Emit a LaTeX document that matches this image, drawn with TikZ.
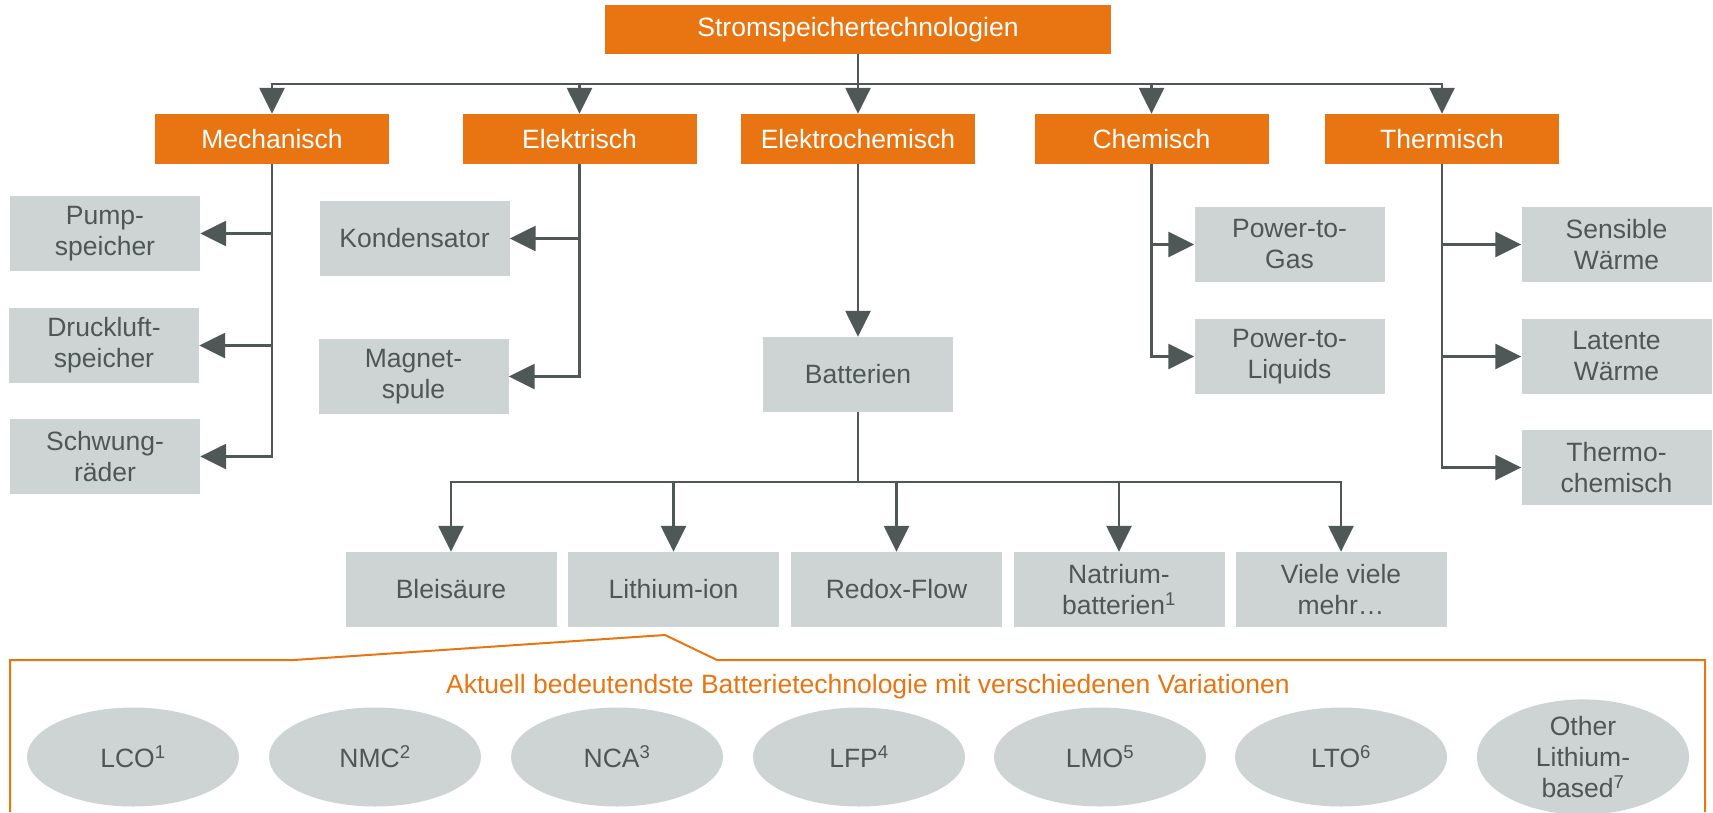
\documentclass[tikz,border=0pt]{standalone}
\usepackage{fontspec}
\setmainfont{Liberation Sans}
\usetikzlibrary{arrows.meta,shapes.geometric}
\definecolor{orng}{HTML}{E87511}
\definecolor{gbox}{HTML}{CED4D4}
\definecolor{dline}{HTML}{4F5856}
\definecolor{dtext}{HTML}{4F5755}
\begin{document}
\begin{tikzpicture}[x=1pt,y=-1pt,
  every node/.style={font=\fontsize{26.5}{31}\selectfont, align=center, inner sep=0pt},
  cat/.style={fill=orng, text=white, minimum width=234pt, minimum height=50pt},
  gbx/.style={fill=gbox, text=dtext, minimum width=190pt, minimum height=75pt},
  bbx/.style={fill=gbox, text=dtext, minimum width=211pt, minimum height=75pt},
  ell/.style={ellipse, fill=gbox, text=dtext, minimum width=212pt, minimum height=99pt},
  arr/.style={draw=dline, line width=2.6pt, -{Triangle[length=26pt,width=25pt]}},
  frame/.style={draw=orng, line width=2pt}
]
\useasboundingbox (0,0) rectangle (1713,812);

% top and categories
\node[cat, minimum width=506pt, minimum height=49pt] (top) at (858,29.5) {Stromspeichertechnologien};
\node[cat] (mech) at (272,139) {Mechanisch};
\node[cat] (elek) at (579.5,139) {Elektrisch};
\node[cat] (echem) at (858,139) {Elektrochemisch};
\node[cat] (chem) at (1151.5,139) {Chemisch};
\node[cat] (therm) at (1442,139) {Thermisch};

\coordinate (bus) at (858,84);
\foreach \c in {mech,elek,echem,chem,therm}
  \draw[arr] (top.south) -- (top.south |- bus) -| (\c.north);

% Mechanisch children
\node[gbx] (pump) at (105,233.5) {Pump-\\speicher};
\node[gbx] (druck) at (104,345.5) {Druckluft-\\speicher};
\node[gbx] (schw) at (105,456.5) {Schwung-\\räder};
\foreach \c in {pump,druck,schw}
  \draw[arr] (mech.south) |- (\c.east);

% Elektrisch children
\node[gbx] (kond) at (414.5,238.5) {Kondensator};
\node[gbx] (magn) at (413.5,376.5) {Magnet-\\spule};
\foreach \c in {kond,magn}
  \draw[arr] (elek.south) |- (\c.east);

% Elektrochemisch
\node[gbx] (batt) at (858,374.5) {Batterien};
\draw[arr] (echem.south) -- (batt.north);

% Chemisch children
\node[gbx] (ptg) at (1289.5,244.5) {Power-to-\\Gas};
\node[gbx] (ptl) at (1289.5,356.5) {Power-to-\\Liquids};
\foreach \c in {ptg,ptl}
  \draw[arr] (chem.south) |- (\c.west);

% Thermisch children
\node[gbx] (sens) at (1616.5,244.5) {Sensible\\Wärme};
\node[gbx] (lat) at (1616.5,356.5) {Latente\\Wärme};
\node[gbx] (thch) at (1616.5,467.5) {Thermo-\\chemisch};
\foreach \c in {sens,lat,thch}
  \draw[arr] (therm.south) |- (\c.west);

% battery types
\node[bbx] (blei) at (451,589.5) {Bleisäure};
\node[bbx] (lith) at (673.5,589.5) {Lithium-ion};
\node[bbx] (redox) at (896.5,589.5) {Redox-Flow};
\node[bbx] (natr) at (1119,589.5) {Natrium-\\batterien\textsuperscript{1}};
\node[bbx] (viele) at (1341,589.5) {Viele viele\\mehr…};
\coordinate (bbus) at (858,482);
\foreach \c in {blei,lith,redox,natr,viele}
  \draw[arr] (batt.south) -- (batt.south |- bbus) -| (\c.north);

% callout frame
\coordinate (f1) at (10,812);
\coordinate (f2) at (10,660);
\coordinate (f3) at (294,660);
\coordinate (f4) at (665,635);
\coordinate (f5) at (717,660);
\coordinate (f6) at (1705,660);
\coordinate (f7) at (1705,812);
\draw[frame] (f1) -- (f2) -- (f3) -- (f4) -- (f5) -- (f6) -- (f7);

\node[text=orng] (ttl) at (868,687) {Aktuell bedeutendste Batterietechnologie mit verschiedenen Variationen};

% lithium variants
\node[ell] (lco) at (133,757) {LCO\textsuperscript{1}};
\node[ell] (nmc) at (375,757) {NMC\textsuperscript{2}};
\node[ell] (nca) at (617,757) {NCA\textsuperscript{3}};
\node[ell] (lfp) at (859,757) {LFP\textsuperscript{4}};
\node[ell] (lmo) at (1100,757) {LMO\textsuperscript{5}};
\node[ell] (lto) at (1341,757) {LTO\textsuperscript{6}};
\node[ell] (oth) at (1583,757) {Other\\Lithium-\\based\textsuperscript{7}};
\end{tikzpicture}
\end{document}
